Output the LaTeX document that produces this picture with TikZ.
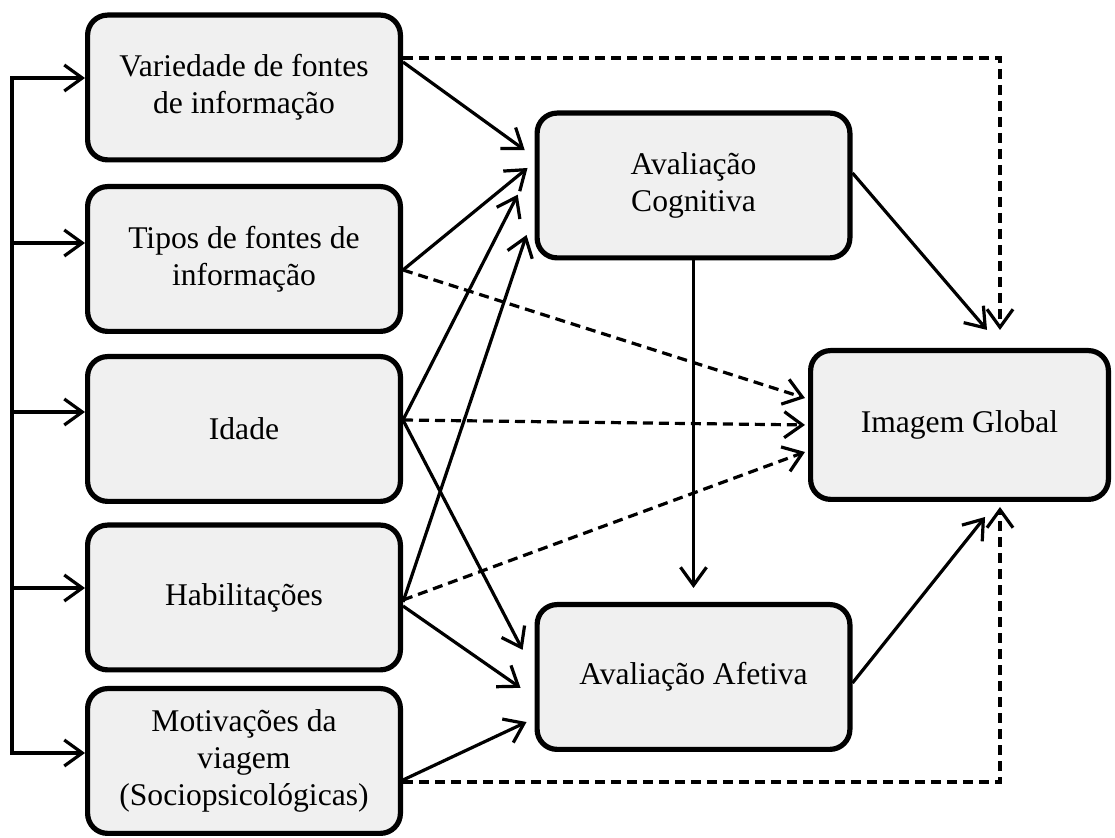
\documentclass[tikz,border=0pt]{standalone}
\usepackage{fontspec}
\setmainfont{Liberation Serif}
\usetikzlibrary{arrows.meta}
\definecolor{cinza}{RGB}{240,240,240}
\newcommand{\txt}{\fontsize{15.8}{18.5}\selectfont}
\tikzset{
   caixa/.style={draw,line width=2.6pt,rounded corners=10pt,fill=cinza,align=center,
      minimum width=156.4pt,minimum height=72.4pt,inner sep=2pt,font=\txt},
   seta/.style={line width=1.6pt,-{Straight Barb[length=9pt,width=13pt,line width=1.6pt]}},
   tracejado/.style={seta,dash pattern=on 5pt off 3pt}
}

\begin{document}
\begin{tikzpicture}[x=0.5pt,y=-0.5pt]
   \useasboundingbox (0,0) rectangle (1115,838);
   \node[caixa] (varie) at (244,87.5) {Variedade de fontes\\de informação};
   \node[caixa] (tipos) at (244,259) {Tipos de fontes de\\informação};
   \node[caixa] (idade) at (244,429) {Idade};
   \node[caixa] (habil) at (244,597.5) {Habilitações};
   \node[caixa] (motiv) at (244,761) {Motivações da\\viagem\\(Sociopsicológicas)};
   \node[caixa] (cogn) at (693.5,185.5) {Avaliação\\Cognitiva};
   \node[caixa] (afet) at (693.5,677) {Avaliação Afetiva};
   \node[caixa,minimum width=148.9pt,minimum height=74.4pt] (glob) at (959.5,425) {Imagem Global};

   \coordinate (s1) at (12,78);
   \coordinate (s5) at (12,753);
   \draw[seta] (s5) -- (s1) -- (varie.west |- s1);
   \draw[seta] (s1) -- (s5) -- (motiv.west |- s5);
   \foreach \n/\y in {tipos/243,idade/412,habil/588}
      \draw[seta] (12,\y) -- (\n.west |- 0,\y);

   \draw[seta,shorten >=6pt] (varie.east |- 0,62) -- (cogn.west |- 0,157.2);
   \draw[seta,shorten >=4.5pt] (tipos.east |- 0,270) -- (cogn.west |- 0,162.3);
   \draw[seta,shorten >=18.5pt] (idade.east |- 0,420) -- (cogn.west |- 0,161.7);
   \draw[seta,shorten >=12.5pt] (habil.east |- 0,602) -- (cogn.west |- 0,211.3);

   \draw[tracejado,shorten >=1.6pt] (tipos.east |- 0,270) -- (glob.west |- 0,399);
   \draw[tracejado,shorten >=1.5pt] (idade.east |- 0,420) -- (glob.west |- 0,425);
   \draw[tracejado,shorten >=1.6pt] (habil.east |- 0,600) -- (glob.west |- 0,450.9);

   \draw[seta,shorten >=12.9pt] (idade.east |- 0,420) -- (afet.west |- 0,672.8);
   \draw[seta,shorten >=8.5pt] (habil.east |- 0,606) -- (afet.west |- 0,697.6);
   \draw[seta,shorten >=4.4pt] (motiv.east |- 0,780) -- (afet.west |- 0,718.3);

   \draw[tracejado,shorten >=9pt] (varie.east |- 0,58) -| (glob.north -| 1000,0);
   \draw[tracejado,shorten >=2.5pt] (motiv.east |- 0,782) -| (glob.south -| 1000,0);

   \draw[seta,shorten >=11.9pt] (cogn.east |- 0,173) -- (glob.north -| 1002.5,0);
   \draw[seta,shorten >=9.6pt] (afet.east |- 0,683) -- (glob.south -| 997,0);
   \draw[seta,shorten >=7pt] (cogn.south) -- (afet.north);
\end{tikzpicture}
\end{document}
